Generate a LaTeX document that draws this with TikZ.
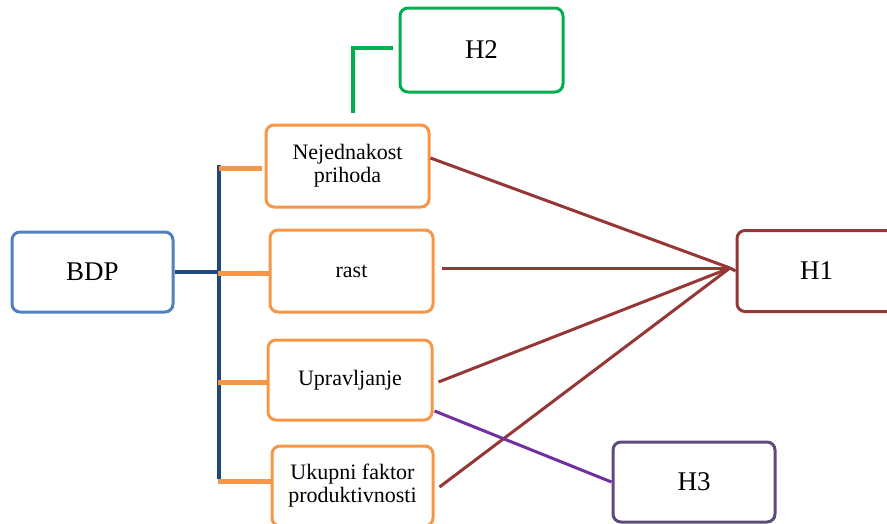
\documentclass[tikz,border=0pt]{standalone}
\usepackage{fontspec}
\setmainfont{Liberation Serif}
\usetikzlibrary{calc}
\definecolor{cOrange}{HTML}{F79646}
\definecolor{cBlue}{HTML}{4F81BD}
\definecolor{cNavy}{HTML}{1F497D}
\definecolor{cGreen}{HTML}{00B050}
\definecolor{cRed}{HTML}{953735}
\definecolor{cPurpBox}{HTML}{604A7B}
\definecolor{cPurp}{HTML}{7030A0}
\begin{document}
\begin{tikzpicture}[x=1pt,y=-1pt,
  box/.style={draw, line width=3pt, rounded corners=8pt, fill=white, align=center, inner sep=0pt},
  small/.style={box, draw=cOrange, font=\fontsize{22}{23}\selectfont},
  big/.style={box, font=\fontsize{27}{30}\selectfont},
  redline/.style={draw=cRed, line width=3pt},
  stub/.style={draw=cOrange, line width=5pt}]
\useasboundingbox (0,0) rectangle (887,523);
\begin{scope}
\clip (0,0) rectangle (887,523);
\node[big, draw=cBlue, minimum width=161pt, minimum height=80pt] (bdp) at (92.5,272) {BDP};
\node[small, minimum width=163pt, minimum height=82pt] (nej) at (347.5,166) {Nejednakost\\prihoda};
\node[small, minimum width=163pt, minimum height=82pt] (rast) at (351.5,271) {rast};
\node[small, minimum width=164pt, minimum height=80pt] (upr) at (350,380) {Upravljanje};
\node[small, minimum width=161pt, minimum height=80pt] (uk) at (352.5,486) {Ukupni faktor\\produktivnosti};
\node[big, draw=cGreen, minimum width=163pt, minimum height=84pt] (h2) at (481.5,50) {H2};
\node[big, draw=cRed, minimum width=190pt, minimum height=81pt, text width=150pt, align=left] (h1) at (832,271) {\hspace*{43pt}H1};
\node[big, draw=cPurpBox, minimum width=162pt, minimum height=80pt] (h3) at (694,482) {H3};

\coordinate (conv) at (730,268);
\coordinate (tb) at (219,165);
\coordinate (bb) at (219,479);
\draw[cNavy, line width=4pt] (bdp.east) -- (bdp.east -| tb);
\draw[cNavy, line width=3.5pt] (tb) -- (bb);
\draw[stub] ($(nej.west)+(-46,2)$) -- ($(nej.west)+(-3,2)$);
\draw[stub] ($(rast.west)+(-51,2)$) -- ($(rast.west)+(0,2)$);
\draw[stub] ($(upr.west)+(-49,2)$) -- ($(upr.west)+(0,2)$);
\draw[stub] ($(uk.west)+(-53,-5)$) -- ($(uk.west)+(0,-5)$);

\draw[redline] ($(nej.east)+(0,-8)$) -- (conv);
\draw[redline] ($(rast.east)+(7,-3)$) -- (conv);
\draw[redline] ($(upr.east)+(5,2)$) -- (conv);
\draw[redline] ($(uk.east)+(5,1)$) -- (conv);
\draw[redline] (conv) -- (h1.west);

\draw[cPurp, line width=3pt] ($(upr.east)+(1,31)$) -- (h3.west);
\draw[cGreen, line width=4pt] ($(nej.north)+(5,-11)$) |- ($(h2.west)+(-6,-2)$);
\end{scope}
\end{tikzpicture}
\end{document}
